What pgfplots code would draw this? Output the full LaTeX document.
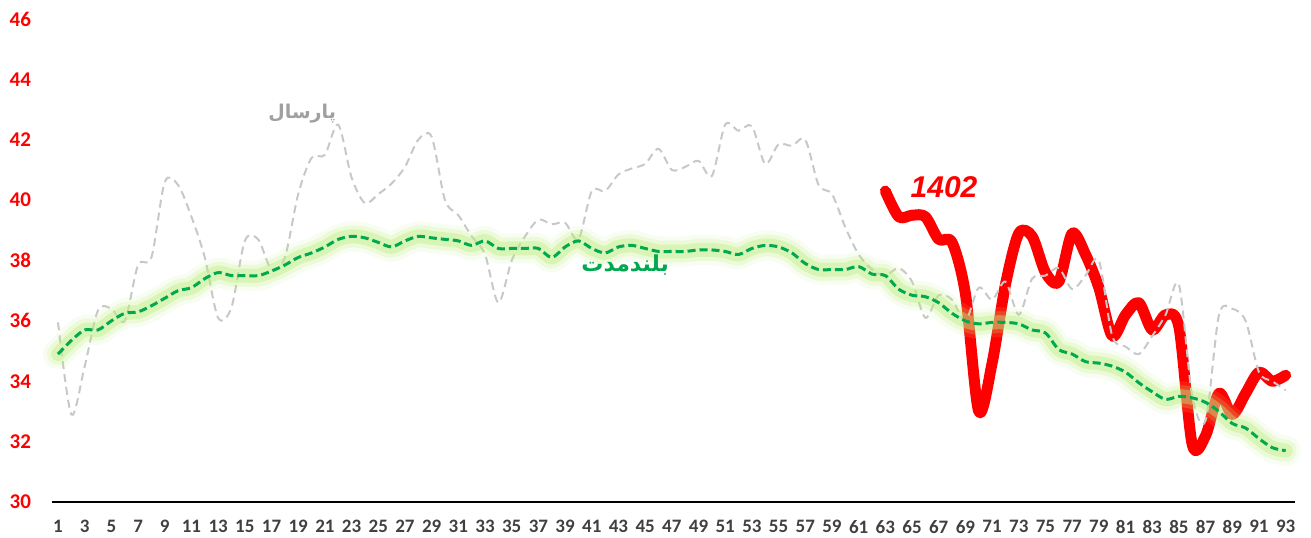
\documentclass[border=0pt]{standalone}
\usepackage{pgfplots}
\usepackage{pgfplotstable}
\pgfplotsset{compat=1.18}
\usepackage{fontspec}
\setmainfont{Carlito}
\newfontfamily\arabicfont[Script=Arabic]{DejaVu Sans}
\newfontfamily\yearfont{Liberation Sans}
\TeXXeTstate=1

\definecolor{glowgreen}{RGB}{190,238,130}
\definecolor{lineGreen}{RGB}{0,168,80}
\definecolor{lastGray}{RGB}{200,200,200}
\definecolor{labelGray}{RGB}{160,160,160}
\definecolor{tickGray}{RGB}{64,64,64}

% last year (gray dashed)
\pgfplotstableread{
x y
1 35.95
2 32.9
3 34.5
4 36.35
5 36.4
6 36.0
7 37.85
8 38.1
9 40.6
10 40.5
11 39.45
12 38.1
13 36.1
14 36.45
15 38.65
16 38.7
17 37.7
18 38.1
19 40.2
20 41.4
21 41.5
22 42.5
23 40.75
24 39.9
25 40.2
26 40.55
27 41.1
28 42.0
29 42.1
30 40.0
31 39.5
32 38.8
33 38.2
34 36.6
35 38.0
36 38.8
37 39.35
38 39.2
39 39.25
40 38.7
41 40.3
42 40.3
43 40.85
44 41.05
45 41.2
46 41.7
47 41.0
48 41.1
49 41.3
50 40.8
51 42.5
52 42.3
53 42.45
54 41.2
55 41.85
56 41.8
57 42.0
58 40.5
59 40.2
60 39.1
61 38.2
62 37.7
63 37.5
64 37.75
65 37.3
66 36.1
67 36.85
68 36.7
69 36.0
70 37.1
71 36.7
72 37.3
73 36.2
74 37.4
75 37.5
76 37.75
77 37.05
78 37.5
79 38.0
80 35.5
81 35.15
82 34.9
83 35.5
84 36.2
85 37.2
86 33.5
87 32.7
88 36.2
89 36.4
90 36.0
91 34.3
92 34.0
93 33.7
}\lastyear

% long-term average (green dashed)
\pgfplotstableread{
x y
1 34.9
2 35.35
3 35.7
4 35.7
5 36.0
6 36.25
7 36.3
8 36.5
9 36.75
10 37.0
11 37.1
12 37.4
13 37.6
14 37.5
15 37.5
16 37.5
17 37.65
18 37.85
19 38.1
20 38.25
21 38.45
22 38.7
23 38.8
24 38.75
25 38.6
26 38.45
27 38.65
28 38.8
29 38.75
30 38.7
31 38.65
32 38.5
33 38.65
34 38.4
35 38.4
36 38.4
37 38.4
38 38.1
39 38.45
40 38.65
41 38.4
42 38.25
43 38.45
44 38.5
45 38.4
46 38.3
47 38.3
48 38.3
49 38.35
50 38.35
51 38.3
52 38.2
53 38.4
54 38.5
55 38.45
56 38.25
57 37.9
58 37.7
59 37.7
60 37.7
61 37.8
62 37.55
63 37.5
64 37.05
65 36.85
66 36.8
67 36.6
68 36.25
69 36.0
70 35.9
71 35.95
72 35.95
73 35.9
74 35.7
75 35.6
76 35.05
77 34.9
78 34.65
79 34.6
80 34.5
81 34.3
82 33.95
83 33.65
84 33.4
85 33.5
86 33.45
87 33.3
88 33.0
89 32.6
90 32.45
91 32.1
92 31.8
93 31.7
}\longterm

% 1402 (red)
\pgfplotstableread{
x y
63 40.3
64 39.45
65 39.5
66 39.45
67 38.7
68 38.6
69 36.9
70 33.0
71 34.6
72 37.2
73 38.9
74 38.8
75 37.6
76 37.3
77 38.9
78 38.2
79 37.1
80 35.5
81 36.2
82 36.6
83 35.7
84 36.2
85 35.8
86 31.9
87 32.2
88 33.6
89 32.9
90 33.6
91 34.3
92 34.0
93 34.2
}\current

\begin{document}
\begin{tikzpicture}
\begin{axis}[
    scale only axis,
    width=621.5pt, height=241.5pt,
    xmin=0.55, xmax=93.7,
    ymin=30, ymax=46,
    axis lines*=left,
    axis line style={-},
    x axis line style={black, line width=0.8pt},
    y axis line style={draw=none},
    major tick length=0pt,
    xtick={1,3,...,93},
    ytick={30,32,...,46},
    /pgf/number format/assume math mode=true,
    xticklabel style={font=\bfseries\fontsize{9.5}{9.5}\selectfont, text=tickGray, yshift=-5.5pt},
    yticklabel style={font=\bfseries\fontsize{10.5}{10.5}\selectfont, text=red, xshift=-7pt},
    clip=false,
]
\addplot[red, line width=5.5pt, smooth, line cap=round, line join=round] table {\current};
\addplot[lastGray, line width=1pt, smooth, dash pattern=on 4pt off 2.5pt] table {\lastyear};
\addplot[glowgreen, line width=15pt, opacity=0.12, smooth, line cap=round, line join=round] table {\longterm};
\addplot[glowgreen, line width=11pt, opacity=0.2, smooth, line cap=round, line join=round] table {\longterm};
\addplot[glowgreen, line width=7pt, opacity=0.4, smooth, line cap=round, line join=round] table {\longterm};
\addplot[lineGreen, line width=1.5pt, smooth, dash pattern=on 4pt off 2pt] table {\longterm};

\node[text=labelGray, font=\arabicfont\bfseries\fontsize{9.5}{9.5}\selectfont] at (axis cs:19.3,42.88) {\beginR پارسال\endR};
\node[text=lineGreen, font=\arabicfont\bfseries\fontsize{11}{11}\selectfont] at (axis cs:43.5,37.85) {\beginR بلندمدت\endR};
\node[text=red, font=\yearfont\bfseries\itshape\fontsize{15}{15}\selectfont] at (axis cs:67.4,40.43) {1402};

\coordinate (ll) at (rel axis cs:0,0);
\coordinate (ur) at (rel axis cs:1,1);
\end{axis}
\pgfresetboundingbox
\path[use as bounding box] ([shift={(-26pt,-17.5pt)}]ll) rectangle ([shift={(8pt,9.5pt)}]ur);
\end{tikzpicture}
\end{document}
